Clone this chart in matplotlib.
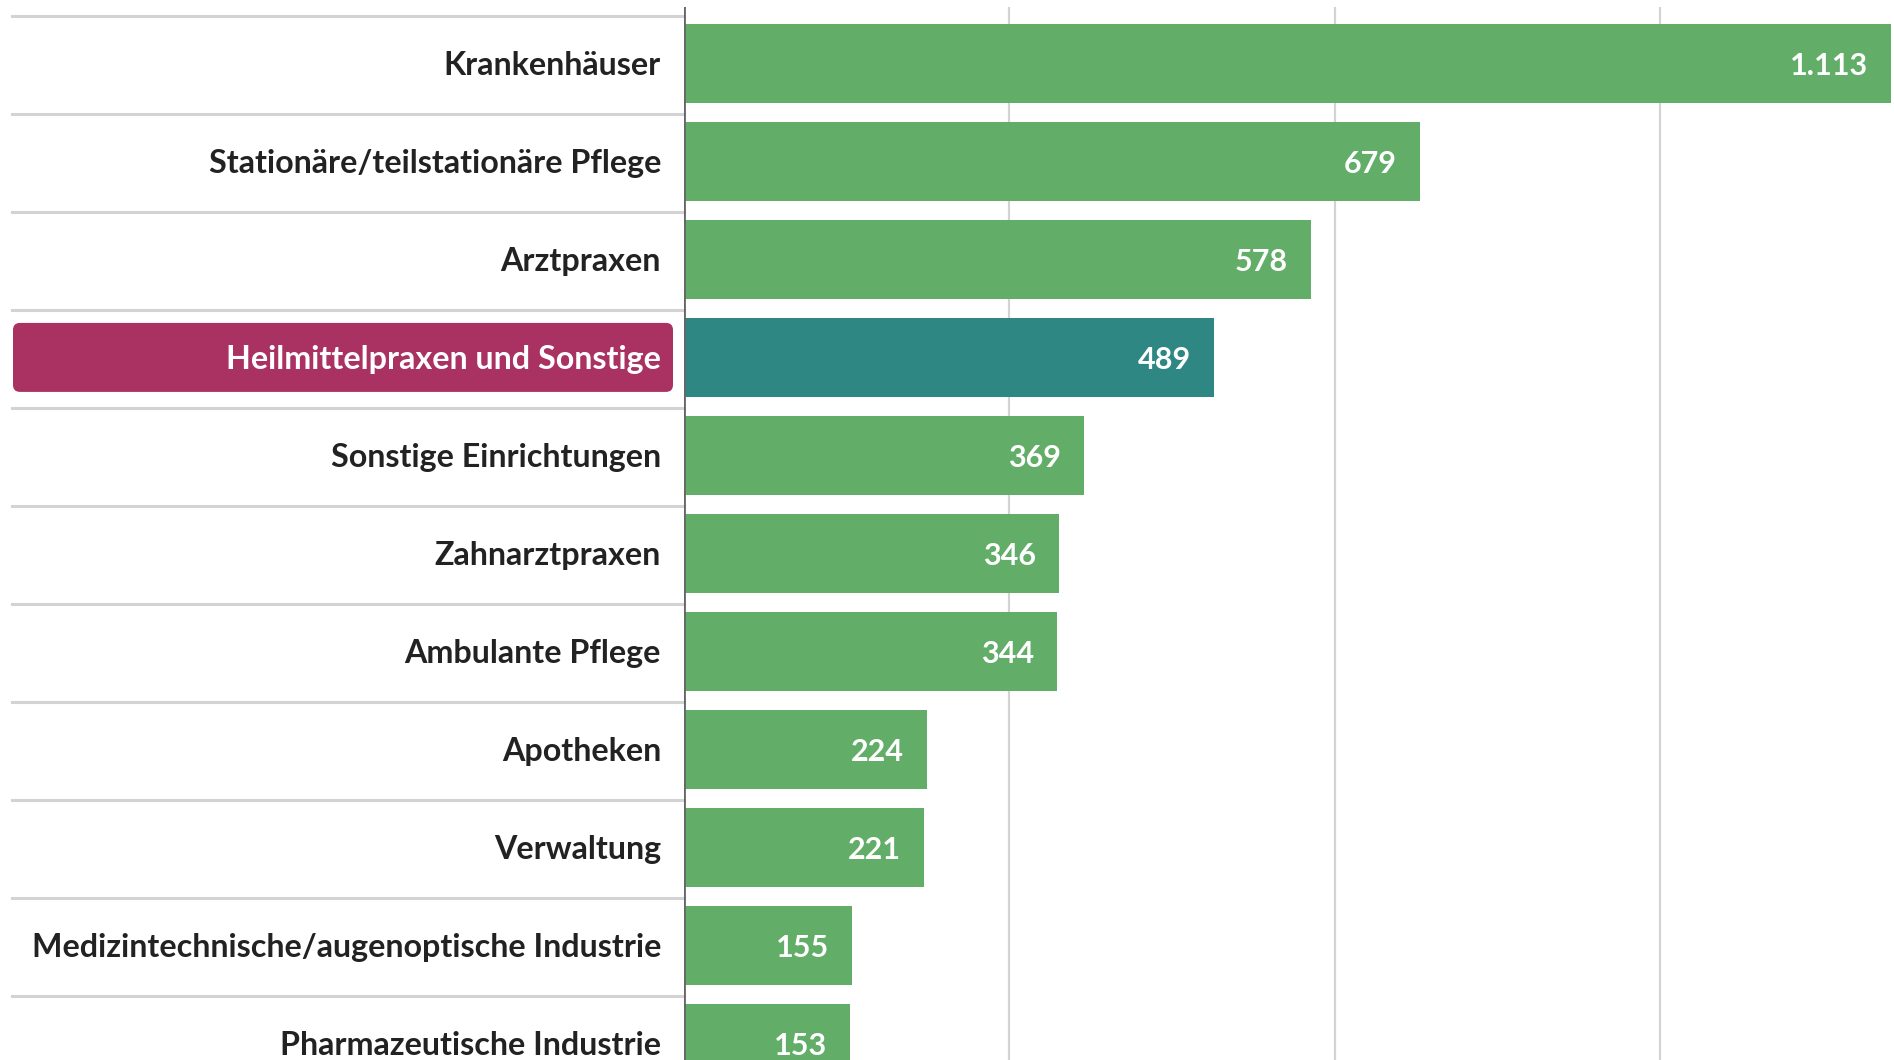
import matplotlib
matplotlib.use("Agg")
import matplotlib.pyplot as plt
from matplotlib.patches import FancyBboxPatch
from matplotlib.transforms import blended_transform_factory

plt.rcParams['font.family'] = ['Lato', 'DejaVu Sans']

# Daten
categories = [
    "Krankenhäuser",
    "Stationäre/teilstationäre Pflege",
    "Arztpraxen",
    "Heilmittelpraxen und Sonstige",
    "Sonstige Einrichtungen",
    "Zahnarztpraxen",
    "Ambulante Pflege",
    "Apotheken",
    "Verwaltung",
    "Medizintechnische/augenoptische Industrie",
    "Pharmazeutische Industrie",
]
values = [1113, 679, 578, 489, 369, 346, 344, 224, 221, 155, 153]
highlight = "Heilmittelpraxen und Sonstige"
grid_ticks = [300, 600, 900]

GREEN = "#62AE69"
TEAL = "#2E8783"
MAGENTA = "#A93262"
GRID = "#D3D3D3"

W, H, DPI = 1894, 1060, 100
fig = plt.figure(figsize=(W / DPI, H / DPI), dpi=DPI)
ax = fig.add_axes([684 / W, 0, 1 - 684 / W, (H - 7) / H])

ypos = list(range(len(categories)))
colors = [TEAL if c == highlight else GREEN for c in categories]
ax.barh(ypos, values, height=0.8, color=colors, zorder=3)

ax.set_xlim(0, 1116)
ax.set_ylim(10.17, -0.576)

for x in grid_ticks:
    ax.axvline(x, color=GRID, lw=1.6, zorder=1)
ax.axvline(0, color="#666666", lw=2, zorder=4)

for s in ax.spines.values():
    s.set_visible(False)
ax.set_xticks([])
ax.set_yticks([])

def fmt(v):
    return f"{v:,}".replace(",", ".")

for y, v in zip(ypos, values):
    ax.annotate(fmt(v), (v, y), xytext=(-23, -3), textcoords="offset pixels",
                ha="right", va="center", color="white", fontsize=22,
                fontweight="bold", zorder=5)

# Kategorie-Beschriftungen links der Achse
trans = blended_transform_factory(fig.transFigure, ax.transData)
for y, c in zip(ypos, categories):
    ax.plot([12 / W, 684 / W], [y - 0.485, y - 0.485], transform=trans,
            color=GRID, lw=2.2, clip_on=False, zorder=1)
    ax.annotate(c, (661 / W, y), xycoords=trans, xytext=(0, -2),
                textcoords="offset pixels", ha="right", va="center",
                fontsize=23.2, fontweight="bold", annotation_clip=False,
                color="white" if c == highlight else "#222222", zorder=6)

# Hervorhebung
fig.canvas.draw()
hi = categories.index(highlight)
yc = ax.transData.transform((0, hi))[1] / DPI
bh = 69 / DPI
box = FancyBboxPatch((13 / DPI, yc - bh / 2), 660 / DPI, bh,
                     boxstyle="round,pad=0,rounding_size=0.07",
                     transform=fig.dpi_scale_trans, facecolor=MAGENTA,
                     edgecolor="none", zorder=2, clip_on=False)
ax.add_patch(box)

fig.savefig("out.png", dpi=DPI)
